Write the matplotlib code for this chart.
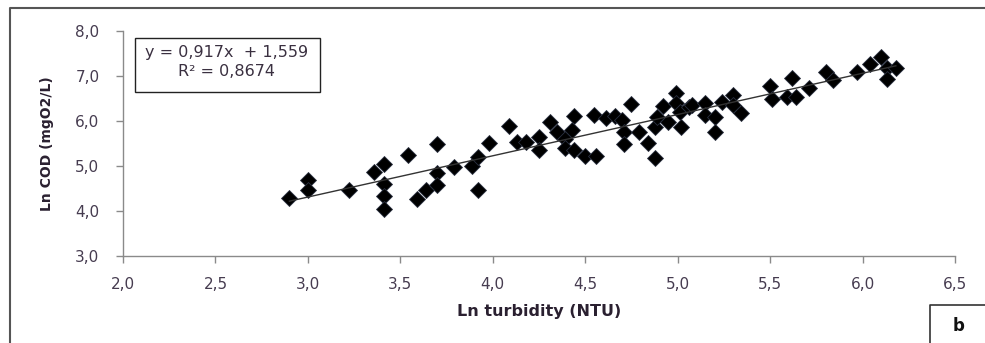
import matplotlib
matplotlib.use('Agg')
import matplotlib.pyplot as plt
from matplotlib.patches import Rectangle
from matplotlib.ticker import FuncFormatter, MultipleLocator

# Ln turbidity (NTU) vs Ln COD (mgO2/L)
ln_turbidity = [2.90, 3.00, 3.00, 3.22, 3.36, 3.41, 3.41, 3.41, 3.41, 3.54,
                3.59, 3.64, 3.70, 3.70, 3.70, 3.79, 3.89, 3.92, 3.92, 3.98,
                4.09, 4.13, 4.18, 4.25, 4.25, 4.31, 4.35, 4.39, 4.39, 4.43,
                4.44, 4.44, 4.50, 4.56, 4.55, 4.61, 4.66, 4.70, 4.71, 4.71,
                4.75, 4.79, 4.84, 4.88, 4.88, 4.89, 4.92, 4.95, 4.99, 4.99,
                5.01, 5.02, 5.06, 5.08, 5.15, 5.15, 5.20, 5.20, 5.24, 5.30,
                5.30, 5.34, 5.50, 5.51, 5.59, 5.62, 5.64, 5.71, 5.80, 5.84,
                5.97, 6.04, 6.10, 6.13, 6.18, 6.13]
ln_cod = [4.30, 4.68, 4.47, 4.47, 4.86, 5.04, 4.60, 4.34, 4.04, 5.24,
          4.27, 4.47, 5.48, 4.84, 4.58, 4.97, 5.00, 5.19, 4.47, 5.52,
          5.90, 5.54, 5.54, 5.65, 5.36, 5.98, 5.76, 5.59, 5.41, 5.80,
          6.11, 5.36, 5.22, 5.22, 6.13, 6.06, 6.11, 6.02, 5.76, 5.50,
          6.37, 5.76, 5.52, 5.17, 5.87, 6.10, 6.34, 5.98, 6.63, 6.41,
          6.21, 5.86, 6.32, 6.36, 6.39, 6.13, 6.10, 5.76, 6.43, 6.58,
          6.36, 6.17, 6.78, 6.48, 6.54, 6.95, 6.54, 6.73, 7.08, 6.91,
          7.08, 7.27, 7.43, 7.17, 7.17, 6.93]

slope = 0.917
intercept = 1.559
r2 = 0.8674

fig = plt.figure(figsize=(9.85, 3.43), dpi=100)
ax = fig.add_axes([123 / 985, 87 / 343, 832 / 985, 225 / 343])

ax.scatter(ln_turbidity, ln_cod, marker='D', s=66, color='black',
           edgecolors='#2a3040', linewidths=0.6, zorder=3)

x0, x1 = min(ln_turbidity), max(ln_turbidity)
ax.plot([x0, x1], [slope * x0 + intercept, slope * x1 + intercept],
        color='#333333', lw=1.0, zorder=4)

ax.set_xlim(2.0, 6.5)
ax.set_ylim(3.0, 8.0)
ax.xaxis.set_major_locator(MultipleLocator(0.5))
ax.yaxis.set_major_locator(MultipleLocator(1.0))
fmt = FuncFormatter(lambda v, p: ('%.1f' % v).replace('.', ','))
ax.xaxis.set_major_formatter(fmt)
ax.yaxis.set_major_formatter(fmt)

for s in ['top', 'right']:
    ax.spines[s].set_visible(False)
for s in ['left', 'bottom']:
    ax.spines[s].set_color('#8a8a8a')
    ax.spines[s].set_linewidth(1.0)
ax.tick_params(direction='out', length=5, width=1, color='#8a8a8a',
               labelcolor='#463c50', labelsize=11)
ax.tick_params(axis='x', pad=10)
ax.tick_params(axis='y', pad=12)

ax.set_xlabel('Ln turbidity (NTU)', fontsize=11.5, fontweight='bold',
              color='#2a2030', labelpad=9)
ax.set_ylabel('Ln COD (mgO2/L)', fontsize=10, fontweight='bold',
              color='#2a2030', labelpad=15)

eq = 'y = %sx  + %s\nR² = %s' % (('%.3f' % slope).replace('.', ','),
                                   ('%.3f' % intercept).replace('.', ','),
                                   ('%.4f' % r2).replace('.', ','))
fig.text(227 / 985, 1 - 62 / 343, eq, ha='center', va='center',
         fontsize=11.5, color='#3a3040', linespacing=1.25)
fig.patches.append(Rectangle((135 / 985, 1 - 92 / 343), 185 / 985, 54 / 343,
                             transform=fig.transFigure, fill=False,
                             edgecolor='#222222', lw=1.0))

# outer frame of the panel
fig.lines.append(plt.Line2D([10 / 985, 10 / 985, 1.0], [0, 1 - 8 / 343, 1 - 8 / 343],
                            transform=fig.transFigure, color='#555555', lw=1.5))
# panel letter box
fig.lines.append(plt.Line2D([930 / 985, 930 / 985, 1.0], [0, 1 - 305 / 343, 1 - 305 / 343],
                            transform=fig.transFigure, color='#333333', lw=1.2))
fig.text(959 / 985, 1 - 326 / 343, 'b', ha='center', va='center',
         fontsize=12, fontweight='bold', color='#111111')

plt.savefig('out.png', dpi=100)
